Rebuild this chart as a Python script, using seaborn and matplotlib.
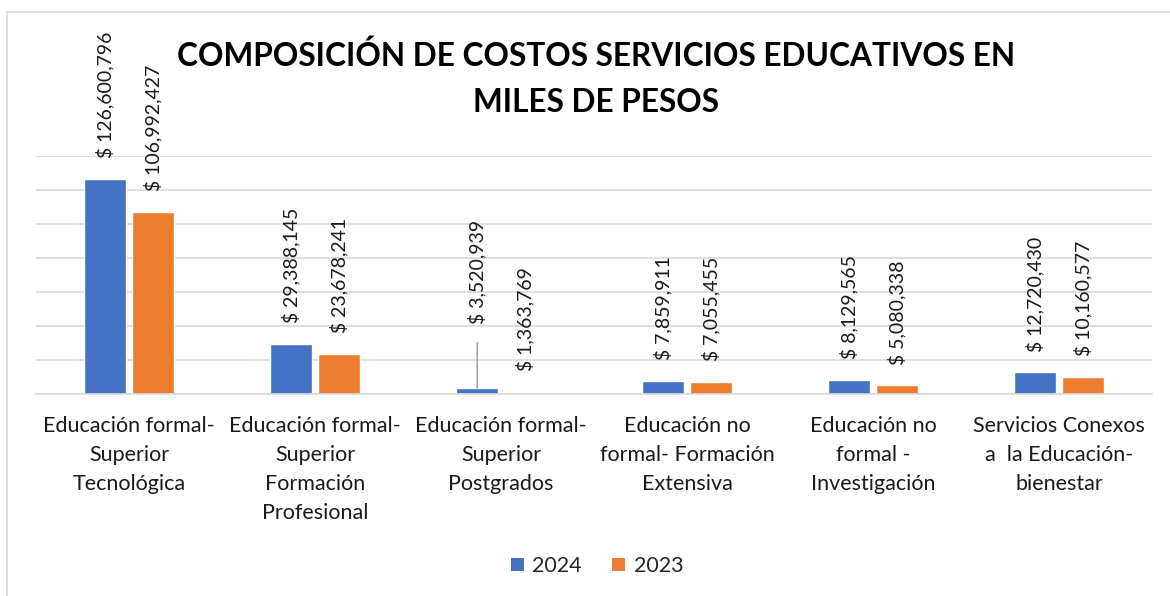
import pandas as pd
import matplotlib.pyplot as plt
import seaborn as sns
from matplotlib.lines import Line2D
from matplotlib.patches import Patch

# Datos (miles de pesos)
categorias = [
    'Educación formal-\nSuperior\nTecnológica',
    'Educación formal-\nSuperior\nFormación\nProfesional',
    'Educación formal-\nSuperior\nPostgrados',
    'Educación no\nformal- Formación\nExtensiva',
    'Educación no\nformal -\nInvestigación',
    'Servicios Conexos\na  la Educación-\nbienestar',
]
valores_2024 = [126600796, 29388145, 3520939, 7859911, 8129565, 12720430]
valores_2023 = [106992427, 23678241, 1363769, 7055455, 5080338, 10160577]
anios = ['2024', '2023']
colores = ['#4472C4', '#ED7D31']

df = pd.DataFrame({
    'categoria': categorias * 2,
    'anio': ['2024'] * 6 + ['2023'] * 6,
    'valor': valores_2024 + valores_2023,
})

sns.set_style('white')
plt.rcParams['font.family'] = ['Lato', 'DejaVu Sans']

fig = plt.figure(figsize=(11.7, 5.96), dpi=100)
ax = fig.add_axes([36 / 1170, 1 - 394 / 596, (1152 - 36) / 1170, (394 - 156) / 596])

sns.barplot(data=df, x='categoria', y='valor', hue='anio', hue_order=anios,
            palette=colores, width=0.51, gap=0.116, saturation=1,
            legend=False, ax=ax)

ax.set_ylim(0, 140_000_000)
ax.set_yticks(range(0, 140_000_001, 20_000_000))
ax.set_yticklabels([])
ax.yaxis.grid(True, color='#D9D9D9', linewidth=1.2)
ax.set_axisbelow(True)
for s in ['top', 'right', 'left']:
    ax.spines[s].set_visible(False)
ax.spines['bottom'].set_color('#D9D9D9')
ax.spines['bottom'].set_linewidth(1.2)
ax.tick_params(axis='both', length=0)
ax.tick_params(axis='x', pad=16, labelsize=15.5, labelcolor='#1a1a1a')
for lbl in ax.get_xticklabels():
    lbl.set_linespacing(1.55)
ax.set_xlabel('')
ax.set_ylabel('')

# Etiquetas de datos
for cont in ax.containers:
    for rect in cont:
        v = rect.get_height()
        x = rect.get_x() + rect.get_width() / 2
        txt = f'$ {v:,.0f}'
        if v == 3520939:
            ax.annotate(txt, (x, v), xytext=(0, 46), textcoords='offset points',
                        rotation=90, ha='center', va='bottom', fontsize=14,
                        color='#1a1a1a',
                        arrowprops=dict(arrowstyle='-', color='#A6A6A6', lw=1.2,
                                        shrinkA=11, shrinkB=0))
        else:
            ax.annotate(txt, (x, v), xytext=(0, 15), textcoords='offset points',
                        rotation=90, ha='center', va='bottom', fontsize=14,
                        color='#1a1a1a')

fig.text(596 / 1170, 1 - 79 / 596,
         'COMPOSICIÓN DE COSTOS SERVICIOS EDUCATIVOS EN\nMILES DE PESOS',
         ha='center', va='center', fontsize=22.8, fontweight='bold',
         linespacing=1.7, color='#000000')

handles = [Patch(facecolor=c, edgecolor='none') for c in colores]
fig.legend(handles, anios, loc='center', bbox_to_anchor=(597 / 1170, 1 - 566 / 596),
           ncol=2, frameon=False, fontsize=15.5, handlelength=0.6, handleheight=0.6,
           handletextpad=0.4, columnspacing=1.4)

# Borde del área del gráfico
fig.add_artist(Line2D([7 / 1170, 7 / 1170], [0, 1 - 12 / 596], transform=fig.transFigure,
                      color='#D9D9D9', lw=1.2))
fig.add_artist(Line2D([7 / 1170, 1], [1 - 12 / 596, 1 - 12 / 596], transform=fig.transFigure,
                      color='#D9D9D9', lw=1.2))

fig.savefig('out.png', dpi=100)
